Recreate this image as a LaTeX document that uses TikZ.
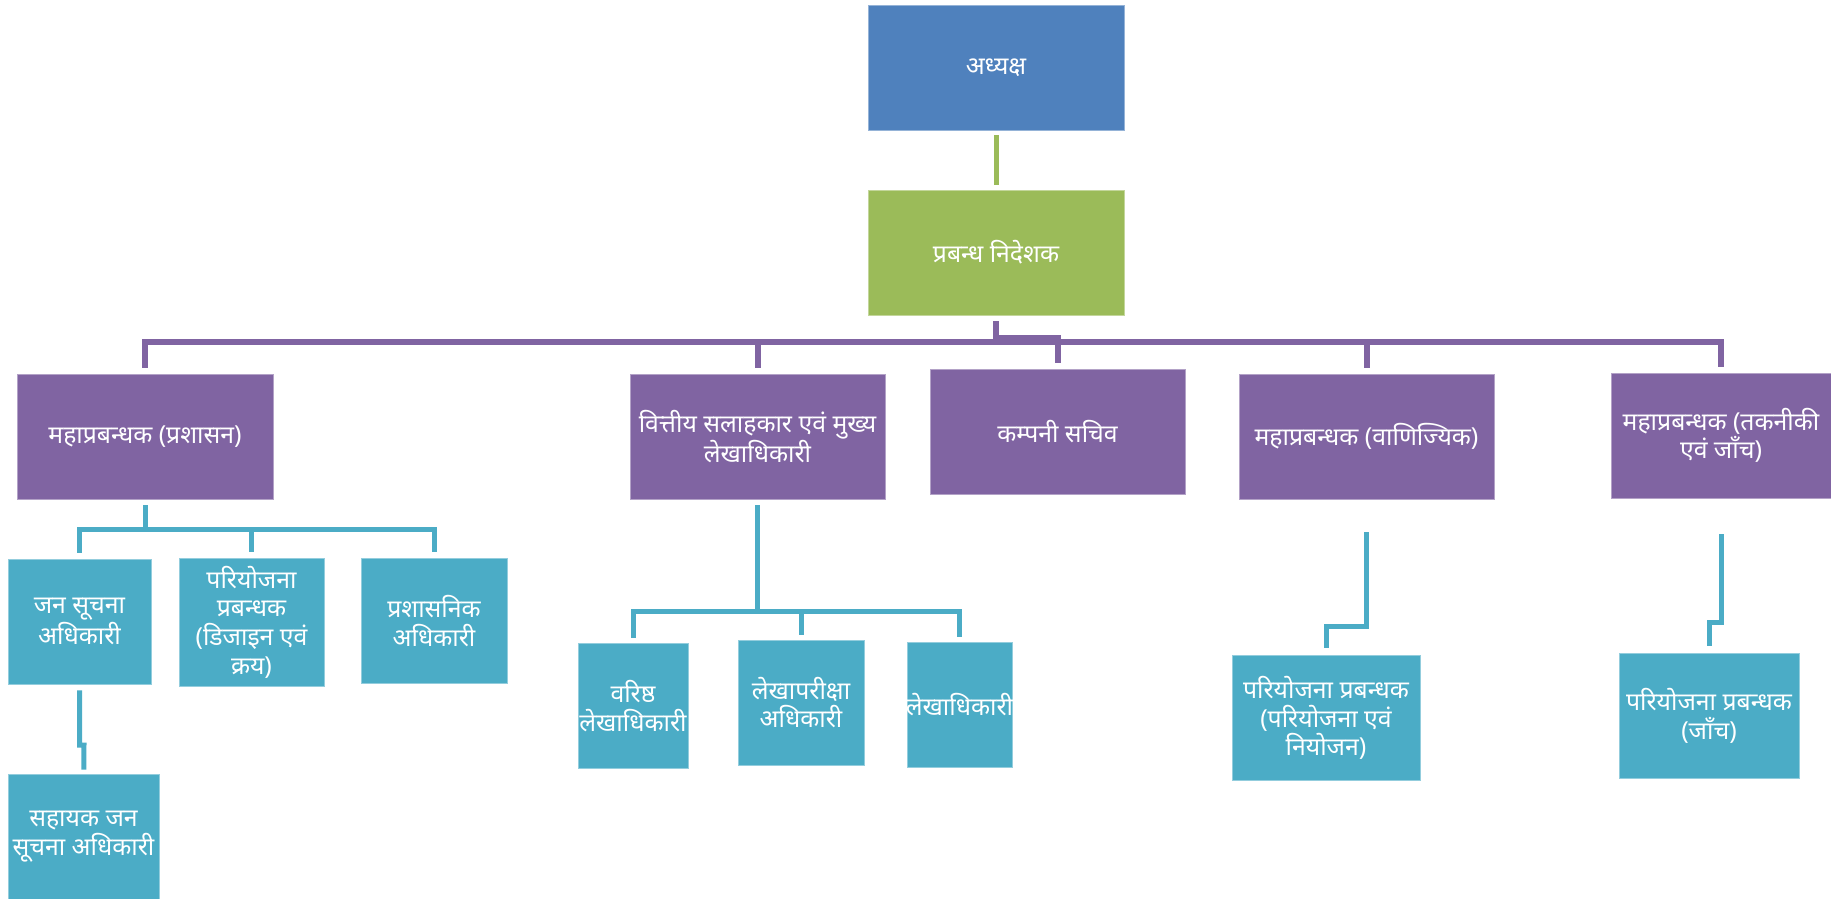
\documentclass[tikz,border=0pt]{standalone}
\usepackage{fontspec}
\newfontfamily\hindi[Script=Devanagari]{Noto Sans}
\usetikzlibrary{positioning}
\usetikzlibrary{calc}
\definecolor{chairblue}{HTML}{4F81BD}
\definecolor{mdgreen}{HTML}{9BBB59}
\definecolor{gmpurple}{HTML}{8064A2}
\definecolor{offteal}{HTML}{4BACC6}

\begin{document}
\begin{tikzpicture}[x=0.5pt,y=-0.5pt,
every node/.style={font=\hindi\fontsize{12.4}{14.3}\selectfont,text=white,align=center,inner sep=0pt},
orgbox/.style={minimum width=#1,minimum height=62.5pt,line width=0.4pt},
bluebox/.style={orgbox=128pt,fill=chairblue,draw=chairblue!60!white},
greenbox/.style={orgbox=128pt,fill=mdgreen,draw=mdgreen!60!white},
purplebox/.style={orgbox=#1,fill=gmpurple,draw=gmpurple!60!white},
tealbox/.style={orgbox=#1,fill=offteal,draw=offteal!60!white},
gline/.style={draw=mdgreen,line width=2.5pt},
pline/.style={draw=gmpurple,line width=3pt},
tline/.style={draw=offteal,line width=2.5pt}]
\useasboundingbox (0,0) rectangle (1831,899);

\node[bluebox](chair) at (996,67.5){अध्यक्ष};
\node[greenbox](md) at (996,252.5){प्रबन्ध निदेशक};

\node[purplebox=128pt](gmadm) at (145,436.5){महाप्रबन्धक (प्रशासन)};
\node[purplebox=127.5pt](fa) at (757.5,436.5){वित्तीय सलाहकार एवं मुख्य\\लेखाधिकारी};
\node[purplebox=127.5pt](cs) at (1057.5,431.5){कम्पनी सचिव};
\node[purplebox=127.5pt](gmcom) at (1366.5,436.5){महाप्रबन्धक (वाणिज्यिक)};
\node[purplebox=110pt](gmtech) at (1721,435.5){महाप्रबन्धक (तकनीकी\\एवं जाँच)};

\node[tealbox=71.5pt](jsa) at (79.5,621.5){जन सूचना\\अधिकारी};
\node[tealbox=72.5pt,minimum height=64pt](ppdk) at (251.5,622){परियोजना\\प्रबन्धक\\(डिजाइन एवं\\क्रय)};
\node[tealbox=73pt](admoff) at (434,621){प्रशासनिक\\अधिकारी};
\node[tealbox=75.5pt](asst) at (83.5,836.5){सहायक जन\\सूचना अधिकारी};

\node[tealbox=55pt](sracc) at (633,706){वरिष्ठ\\लेखाधिकारी};
\node[tealbox=63pt](audit) at (801,702.5){लेखापरीक्षा\\अधिकारी};
\node[tealbox=52.5pt,inner xsep=-1.5pt](accoff) at (959.5,704.5){लेखाधिकारी};

\node[tealbox=94pt](pppn) at (1326,718){परियोजना प्रबन्धक\\(परियोजना एवं\\नियोजन)};
\node[tealbox=90pt](ppj) at (1709,716){परियोजना प्रबन्धक\\(जाँच)};

\coordinate(pbus) at (996,342);
\coordinate(pstep) at (996,338);
\coordinate(abus) at (145,529);
\coordinate(jog) at (84,745);
\coordinate(fbus) at (757.5,611);
\coordinate(cbus) at (1366.5,626);
\coordinate(tbus) at (1721,622);

\draw[gline,shorten <=2.5pt,shorten >=2.5pt](chair)--(md);

\draw[pline,shorten <=3pt](md)--(pbus);
\draw[pline,shorten >=3pt](pbus)-|(gmadm);
\draw[pline,shorten >=3pt](pbus)-|(fa);
\draw[pline,shorten >=3pt](pstep)-|(cs);
\draw[pline,shorten >=3pt](pbus)-|(gmcom);
\draw[pline,shorten >=3pt](pbus)-|(gmtech);

\draw[tline,shorten <=3pt](gmadm)--(abus);
\draw[tline,shorten >=3pt](abus)-|(jsa);
\draw[tline,shorten >=3pt](abus)-|(ppdk);
\draw[tline,shorten >=3pt](abus)-|(admoff);
\draw[tline,shorten <=3pt,shorten >=2pt](jsa)|-(jog)--(asst);

\draw[tline,shorten <=3pt](fa)--(fbus);
\draw[tline,shorten >=2.5pt](fbus)-|(sracc);
\draw[tline,shorten >=2.5pt](fbus)-|(audit);
\draw[tline,shorten >=2.5pt](fbus)-|(accoff);

\draw[tline,shorten <=16.5pt,shorten >=3.5pt](gmcom)--(cbus)-|(pppn);
\draw[tline,shorten <=18pt,shorten >=3.5pt](gmtech)--(tbus)-|(ppj);
\end{tikzpicture}
\end{document}
